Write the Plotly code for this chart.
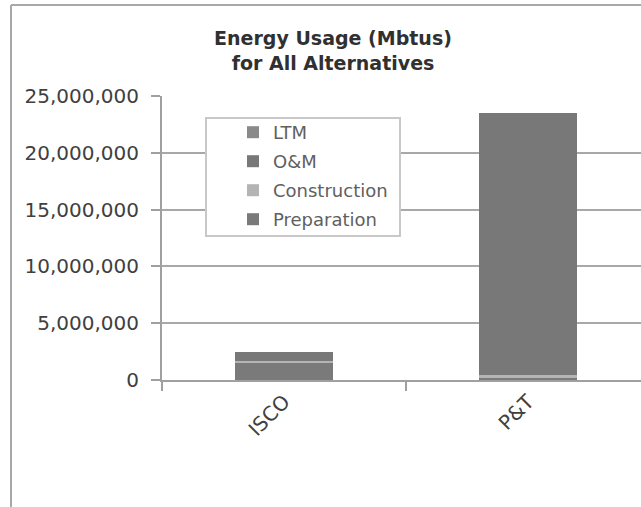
import plotly.graph_objects as go

categories = ["ISCO", "P&T"]
preparation = [1550000, 150000]
construction = [130000, 250000]
om = [790000, 23100000]
ltm = [0, 0]

series_names = ["Preparation", "Construction", "O&M", "LTM"]
series_values = [preparation, construction, om, ltm]
series_colors = ["#7a7a7a", "#b4b4b4", "#787878", "#8a8a8a"]
legend_ranks = [4, 3, 2, 1]

y_ticks = [0, 5000000, 10000000, 15000000, 20000000, 25000000]

fig = go.Figure()
for name, vals, col, rank in zip(series_names, series_values, series_colors, legend_ranks):
    fig.add_trace(go.Bar(
        x=categories, y=vals, name=name, marker_color=col,
        marker_line_width=0, legendgroup=name, legendrank=rank,
    ))

W, H = 641, 507
L, R, T, B = 162, 0, 96, 127
pw = W - L - R
ph = H - T - B

def px_x(x):
    return (x - L) / pw

def px_y(y):
    return (H - B - y) / ph

fig.update_layout(
    width=W, height=H,
    margin=dict(l=L, r=R, t=T, b=B, pad=0),
    barmode="stack", bargap=0.6,
    paper_bgcolor="white", plot_bgcolor="white",
    font=dict(family="DejaVu Sans", color="#404040"),
    title=dict(
        text="<b>Energy Usage (Mbtus)<br>for All Alternatives</b>",
        x=333 / W, xanchor="center", y=1 - 45 / H, yanchor="middle",
        font=dict(family="DejaVu Sans", size=19, color="#303030"),
    ),
    legend=dict(
        x=px_x(233), y=px_y(114), xanchor="left", yanchor="top",
        bgcolor="rgba(0,0,0,0)", borderwidth=0,
        font=dict(family="DejaVu Sans", size=18, color="#606060"),
        traceorder="grouped", tracegroupgap=2.6,
    ),
    showlegend=True,
    xaxis=dict(
        type="category",
        showline=True, linecolor="#a0a0a0", linewidth=2,
        ticks="outside", tickson="boundaries", ticklen=9, tickcolor="#a0a0a0", tickwidth=2,
        tickangle=-45, tickfont=dict(family="DejaVu Sans", size=20, color="#404040"),
        showgrid=False, zeroline=False,
    ),
    yaxis=dict(
        range=[0, 25000000], tickvals=y_ticks, tickformat=",d",
        showline=True, linecolor="#a0a0a0", linewidth=2,
        ticks="outside", ticklen=9, tickcolor="#a0a0a0", tickwidth=2,
        showgrid=True, gridcolor="#a8a8a8", gridwidth=2,
        zeroline=False,
        tickfont=dict(family="DejaVu Sans", size=20, color="#404040"),
        ticklabelstandoff=8,
    ),
    shapes=[
        dict(type="line", xref="paper", yref="paper",
             x0=px_x(11), x1=px_x(11), y0=px_y(5), y1=px_y(510),
             line=dict(color="#a8a8a8", width=2)),
        dict(type="line", xref="paper", yref="paper",
             x0=px_x(11), x1=px_x(645), y0=px_y(5), y1=px_y(5),
             line=dict(color="#a8a8a8", width=2)),
        dict(type="rect", xref="paper", yref="paper", layer="above",
             x0=px_x(206), x1=px_x(400), y0=px_y(118), y1=px_y(236),
             fillcolor="white", line=dict(color="#c8c8c8", width=2)),
    ],
)
# x range: left edge half a category left of ISCO; 244 px per category
fig.update_xaxes(range=[-0.5, -0.5 + pw / 244])

fig.write_html(
    "out.html",
    config={"displayModeBar": False},
    post_script="document.body.style.margin='0';document.body.style.overflow='hidden';",
)
